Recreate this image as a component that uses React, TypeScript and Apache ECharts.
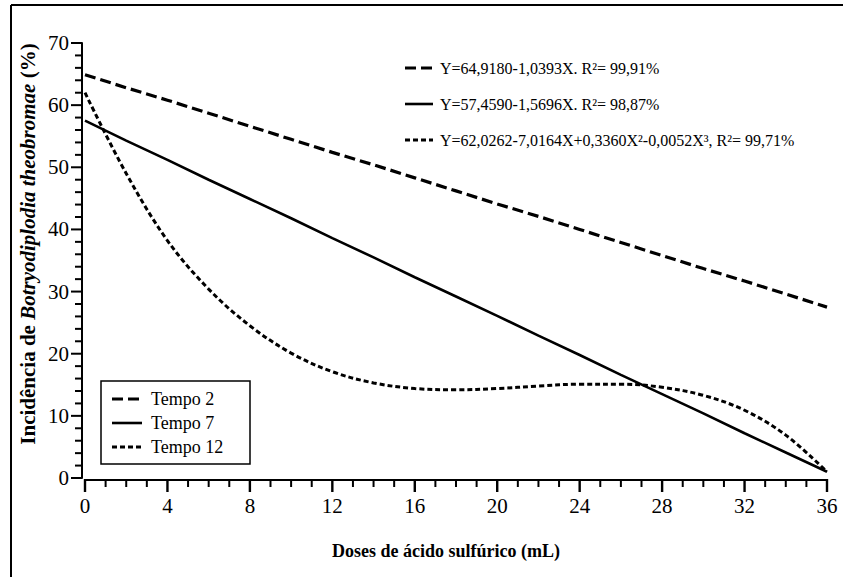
import React, { useEffect, useRef } from "react";
import * as echarts from "echarts";

const doses = [0, 2, 4, 6, 8, 10, 12, 14, 16, 18, 20, 22, 24, 26, 28, 30, 32, 34, 36];
const tempo2 = [64.9, 62.8, 60.8, 58.7, 56.6, 54.5, 52.4, 50.4, 48.3, 46.2, 44.1, 42.1, 40.0, 37.9, 35.8, 33.7, 31.7, 29.6, 27.5];
const tempo7 = [57.5, 54.3, 51.2, 48.0, 44.9, 41.8, 38.6, 35.5, 32.3, 29.2, 26.1, 22.9, 19.8, 16.6, 13.5, 10.4, 7.2, 4.1, 1.0];
const tempo12 = [62.0, 49.0, 38.2, 30.4, 24.5, 20.1, 17.1, 15.3, 14.4, 14.2, 14.4, 14.8, 15.1, 15.1, 14.6, 13.3, 10.9, 6.9, 1.0];
const seriesNames = ["Tempo 2", "Tempo 7", "Tempo 12"];
const equations = [
  "Y=64,9180-1,0393X. R²= 99,91%",
  "Y=57,4590-1,5696X. R²= 98,87%",
  "Y=62,0262-7,0164X+0,3360X²-0,0052X³, R²= 99,71%",
];
const xTitle = "Doses de ácido sulfúrico (mL)";
const xTickValues = [0, 1, 2, 3, 4, 5, 6, 7, 8, 9, 10, 11, 12, 13, 14, 15, 16, 17, 18, 19, 20, 21, 22, 23, 24, 25, 26, 27, 28, 29, 30, 31, 32, 33, 34, 35, 36];
const yTickValues = [0, 2, 4, 6, 8, 10, 12, 14, 16, 18, 20, 22, 24, 26, 28, 30, 32, 34, 36, 38, 40, 42, 44, 46, 48, 50, 52, 54, 56, 58, 60, 62, 64, 66, 68, 70];

const FONT = '"Liberation Serif", "Times New Roman", serif';
const dashes: any[] = [[11, 5], "solid", [5, 3]];
const widths = [3.2, 2.6, 3];

export default function App() {
  const ref = useRef<HTMLDivElement>(null);
  useEffect(() => {
    if (!ref.current) return;
    const chart = echarts.init(ref.current, undefined, { renderer: "svg" });
    const values = [tempo2, tempo7, tempo12];
    const series: any[] = values.map((vals, i) => ({
      name: seriesNames[i],
      type: "line",
      data: doses.map((d, j) => [d, vals[j]]),
      symbol: "none",
      showSymbol: false,
      smooth: i === 2 ? 0.35 : false,
      lineStyle: { color: "#000", width: widths[i], type: dashes[i] },
      itemStyle: { color: "#000" },
      z: 3,
    }));
    const axisLine = { show: true, onZero: false, lineStyle: { color: "#000", width: 2 } };
    chart.setOption({
      animation: false,
      backgroundColor: "#fff",
      grid: { left: 85, right: 16, top: 43, bottom: 99, containLabel: false },
      xAxis: {
        type: "value",
        min: 0,
        max: 36,
        interval: 4,
        offset: 2,
        axisLine,
        axisTick: { show: false },
        axisLabel: { show: true, fontFamily: FONT, fontSize: 21, color: "#000", margin: 15 },
        splitLine: { show: false },
      },
      yAxis: {
        type: "value",
        min: 0,
        max: 70,
        interval: 10,
        offset: 3,
        axisLine,
        axisTick: { show: false },
        axisLabel: { show: true, fontFamily: FONT, fontSize: 21, color: "#000", margin: 13 },
        splitLine: { show: false },
      },
      series,
    });

    const eqY = [68, 104, 140];
    const legY = [399, 423, 447];
    const graphic: any[] = [
      { type: "line", shape: { x1: 11, y1: 5, x2: 843, y2: 5 }, style: { stroke: "#000", lineWidth: 2 } },
      { type: "line", shape: { x1: 11, y1: 5, x2: 11, y2: 577 }, style: { stroke: "#000", lineWidth: 2 } },
      {
        type: "text",
        x: 28,
        y: 244,
        rotation: Math.PI / 2,
        style: {
          text: "{b|Incidência de }{bi|Botryodiplodia theobromae}{b| (%)}",
          align: "center",
          verticalAlign: "middle",
          rich: {
            b: { fontFamily: FONT, fontSize: 21, fontWeight: "bold", fill: "#000" },
            bi: { fontFamily: FONT, fontSize: 21, fontWeight: "bold", fontStyle: "italic", fill: "#000" },
          },
        },
      },
      {
        type: "text",
        x: 446,
        y: 551,
        style: {
          text: xTitle,
          font: `bold 18px ${FONT}`,
          fill: "#000",
          align: "center",
          verticalAlign: "middle",
        },
      },
      {
        type: "rect",
        shape: { x: 101, y: 381, width: 149, height: 83 },
        style: { fill: "#fff", stroke: "#000", lineWidth: 1.5 },
        z: 10,
      },
    ];
    // tick marks as thin filled rects, positioned through the chart's scales
    xTickValues.forEach((v) => {
      const p = chart.convertToPixel({ gridIndex: 0 }, [v, 0]) as any;
      const px = p && isFinite(p[0]) ? p[0] : 85 + (v / 36) * 742;
      const py = p && isFinite(p[1]) ? p[1] : 478;
      const major = v % 4 === 0;
      const len = major ? 12 : 7;
      const w = major ? 2.4 : 2;
      graphic.push({
        type: "rect",
        z: 20,
        shape: { x: px - w / 2, y: py + 1, width: w, height: len + 1 },
        style: { fill: "#000", stroke: null },
      });
    });
    yTickValues.forEach((v) => {
      const p = chart.convertToPixel({ gridIndex: 0 }, [0, v]) as any;
      const px = p && isFinite(p[0]) ? p[0] : 85;
      const py = p && isFinite(p[1]) ? p[1] : 478 - (v / 70) * 435;
      const major = v % 10 === 0;
      const len = major ? 11 : 7;
      graphic.push({
        type: "rect",
        z: 20,
        shape: { x: px - 3 - len, y: py - 1, width: len, height: 2 },
        style: { fill: "#000", stroke: null },
      });
    });
    equations.forEach((eq, i) => {
      graphic.push({
        type: "line",
        shape: { x1: 405, y1: eqY[i], x2: 433, y2: eqY[i] },
        style: { stroke: "#000", lineWidth: widths[i], lineDash: dashes[i] === "solid" ? null : dashes[i] },
      });
      graphic.push({
        type: "text",
        x: 440,
        y: eqY[i],
        style: { text: eq, font: `16px ${FONT}`, fill: "#000", align: "left", verticalAlign: "middle" },
      });
    });
    seriesNames.forEach((nm, i) => {
      graphic.push({
        type: "line",
        z: 11,
        shape: { x1: 112, y1: legY[i], x2: 142, y2: legY[i] },
        style: { stroke: "#000", lineWidth: widths[i], lineDash: dashes[i] === "solid" ? null : dashes[i] },
      });
      graphic.push({
        type: "text",
        z: 11,
        x: 151,
        y: legY[i],
        style: { text: nm, font: `18px ${FONT}`, fill: "#000", align: "left", verticalAlign: "middle" },
      });
    });
    chart.setOption({ graphic });
    return () => chart.dispose();
  }, []);
  return <div ref={ref} style={{ width: 843, height: 577, position: "absolute", left: 0, top: 0 }} />;
}
